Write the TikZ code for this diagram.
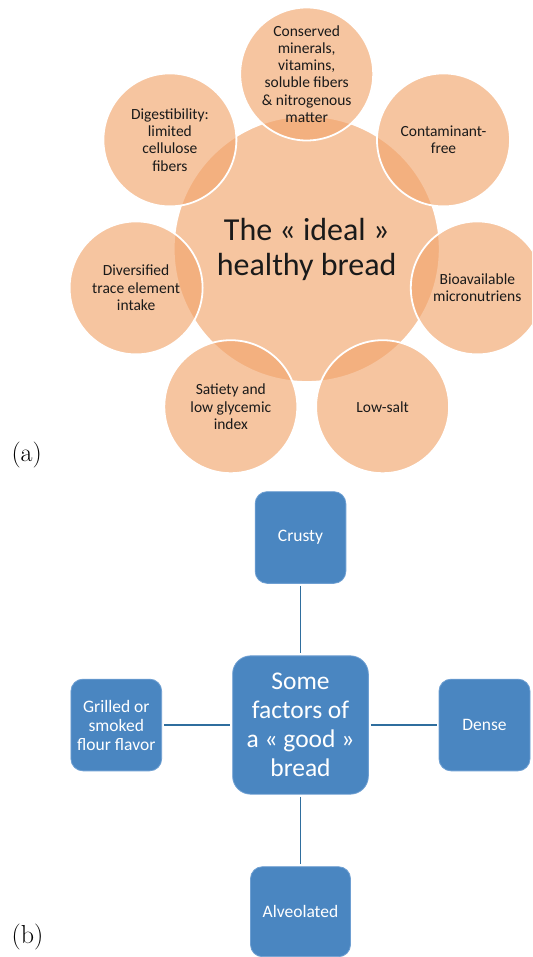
\documentclass[tikz,border=0pt]{standalone}
\usepackage{fontspec}
\newfontfamily\calibri{Carlito}
\definecolor{peach}{HTML}{F2A66E}
\definecolor{boxblue}{HTML}{4A86C1}
\definecolor{boxedge}{HTML}{6E9FD2}
\definecolor{linkblue}{HTML}{2F6E9E}
\definecolor{txt}{HTML}{1A1A1A}
\tikzset{
  sat/.style={circle, minimum size=133pt, inner sep=0pt, fill=peach, fill opacity=0.65,
    draw=white, line width=1.8pt, text opacity=1, text=txt, align=center,
    font=\calibri\fontsize{15.5}{17.3}\selectfont},
  hub/.style={sat, minimum size=266pt, font=\calibri\fontsize{32}{35}\selectfont},
  bbox/.style={rectangle, rounded corners=12pt, fill=boxblue, draw=boxedge, line width=0.8pt,
    text=white, align=center, inner sep=0pt, font=\calibri\fontsize{17.5}{19}\selectfont},
  bhub/.style={bbox, rounded corners=18pt, font=\calibri\fontsize{25.5}{29}\selectfont},
  link/.style={draw=linkblue, line width=1.6pt, shorten >=2pt, shorten <=2pt},
  panel/.style={font=\fontsize{26}{30}\selectfont, anchor=base, inner sep=0pt}
}
\begin{document}
\begin{tikzpicture}[x=1pt, y=-1pt]
\useasboundingbox (0,0) rectangle (532,957);
\clip (0,0) rectangle (532,957);
\fill[white] (0,0) rectangle (532,957);
% ---- panel (a)
\node[hub] (ideal) at (306.7,249) {The « ideal »\\healthy bread};
\node[sat] (cons) at (306.7,74) {Conserved\\minerals,\\vitamins,\\soluble fibers\\\& nitrogenous\\matter};
\node[sat] (cont) at (443.5,139.9) {Contaminant-\\free};
\node[sat] (bio) at (477.3,287.9) {Bioavailable\\micronutriens};
\node[sat] (salt) at (382.6,406.7) {Low-salt};
\node[sat] (sat) at (230.8,406.7) {Satiety and\\low glycemic\\index};
\node[sat] (div) at (136.1,287.9) {Diversified\\trace element\\intake};
\node[sat] (dig) at (169.9,139.9) {Digestibility:\\limited\\cellulose\\fibers};
\node[panel] (la) at (26.7,461.5) {(a)};
% ---- panel (b)
\node[bhub, minimum width=135.7pt, minimum height=138.3pt] (good) at (300.5,725) {Some\\factors of\\a « good »\\bread};
\node[bbox, minimum width=90.7pt, minimum height=91.7pt] (crusty) at (300.5,537.5) {Crusty};
\node[bbox, minimum width=90.7pt, minimum height=91.7pt] (grill) at (116.3,725) {Grilled or\\smoked\\flour flavor};
\node[bbox, minimum width=91pt, minimum height=91.7pt] (dense) at (484.5,725) {Dense};
\node[bbox, minimum width=100pt, minimum height=90pt] (alv) at (300.5,911.7) {Alveolated};
\draw[link] (crusty) -- (good);
\draw[link] (good) -- (alv);
\draw[link] (grill) -- (good);
\draw[link] (good) -- (dense);
\node[panel] (lb) at (27.5,943) {(b)};
\end{tikzpicture}
\end{document}
